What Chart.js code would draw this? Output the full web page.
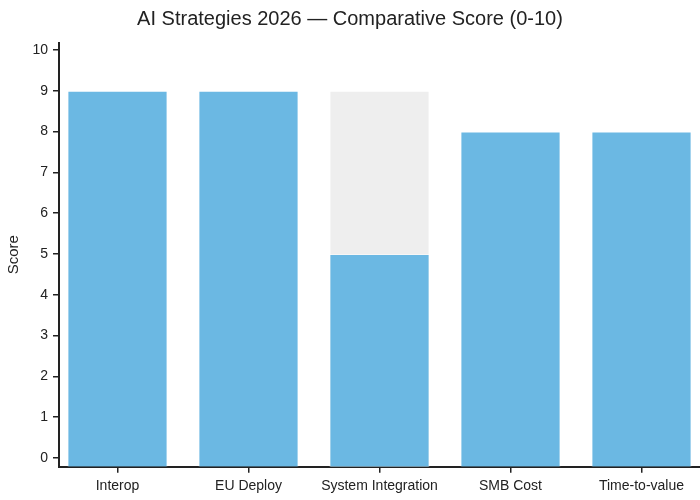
<!DOCTYPE html>
<html>
<head>
<meta charset="utf-8">
<script src="https://cdn.jsdelivr.net/npm/chart.js@4/dist/chart.umd.min.js"></script>
<style>
html,body{margin:0;padding:0;background:#fff;}
#wrap{width:700px;height:500px;}
</style>
</head>
<body>
<div id="wrap"><canvas id="c" width="700" height="500"></canvas></div>
<script>
const categories = ["Interop", "EU Deploy", "System Integration", "SMB Cost", "Time-to-value"];
const scores = [9, 9, 5, 8, 8];
const benchmark = [null, null, 9, null, null];
const yTicks = [0,1,2,3,4,5,6,7,8,9,10];
const titleText = "AI Strategies 2026 \u2014 Comparative Score (0-10)";

const Y_MIN = -0.213, Y_MAX = 10.176;
const X_MIN = -0.4465, X_MAX = categories.length - 1 + 0.4465;
const ink = '#222';
const fontFam = "'Liberation Sans', Arial, sans-serif";

new Chart(document.getElementById('c'), {
  type: 'bar',
  data: {
    datasets: [
      {
        label: 'Score',
        data: categories.map((c, i) => ({x: i, y: scores[i]})),
        backgroundColor: '#6bb8e3',
        borderColor: 'rgba(255,255,255,0.45)',
        borderWidth: 1,
        base: Y_MIN,
        grouped: false,
        barPercentage: 0.765,
        categoryPercentage: 1
      },
      {
        label: 'Benchmark',
        data: categories.map((c, i) => ({x: i, y: benchmark[i]})),
        backgroundColor: '#eeeeee',
        borderColor: 'rgba(255,255,255,0.45)',
        borderWidth: 1,
        base: Y_MIN,
        grouped: false,
        barPercentage: 0.765,
        categoryPercentage: 1
      }
    ]
  },
  options: {
    responsive: false,
    animation: false,
    devicePixelRatio: 1,
    layout: {padding: {top: 7, left: 0, right: 0, bottom: 0}},
    plugins: {
      legend: {display: false},
      tooltip: {enabled: false},
      title: {
        display: true,
        text: titleText,
        color: ink,
        font: {family: fontFam, size: 20, weight: 'normal'},
        padding: {top: 0, bottom: 11.7}
      }
    },
    scales: {
      x: {
        type: 'linear',
        offset: false,
        bounds: 'data',
        min: X_MIN,
        max: X_MAX,
        afterBuildTicks: (s) => { s.ticks = categories.map((c, i) => ({value: i})); },
        afterFit: (s) => { s.height = 33.3; },
        ticks: {
          callback: (v) => categories[v],
          color: ink,
          font: {family: fontFam, size: 14},
          padding: 5,
          maxRotation: 0,
          autoSkip: false
        },
        grid: {display: true, offset: false, drawOnChartArea: false, drawTicks: true, tickLength: 6, color: ink, lineWidth: 1.5},
        border: {display: true, color: ink, width: 2}
      },
      y: {
        type: 'linear',
        min: Y_MIN,
        max: Y_MAX,
        afterBuildTicks: (s) => { s.ticks = yTicks.map(v => ({value: v})); },
        afterFit: (s) => { s.width = 59; },
        ticks: {
          color: ink,
          font: {family: fontFam, size: 14},
          padding: 5
        },
        title: {
          display: true,
          text: 'Score',
          color: ink,
          font: {family: fontFam, size: 15},
          padding: {top: 5, bottom: 0}
        },
        grid: {display: true, drawOnChartArea: false, drawTicks: true, tickLength: 6, color: ink, lineWidth: 1.5},
        border: {display: true, color: ink, width: 2}
      }
    }
  }
});
</script>
</body>
</html>
